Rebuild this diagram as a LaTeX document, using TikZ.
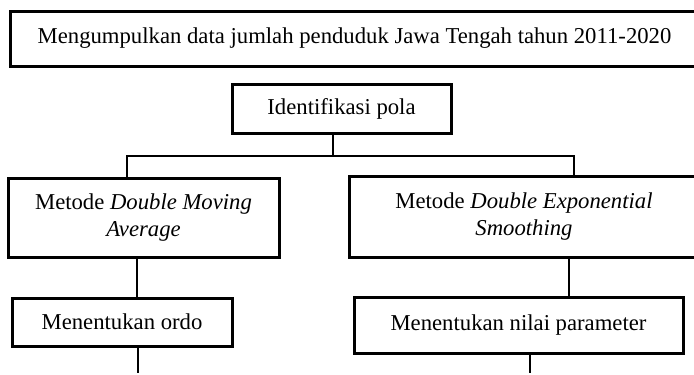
\documentclass[tikz,border=0pt]{standalone}
\usepackage{fontspec}
\setmainfont{Liberation Serif}
\tikzset{
  box/.style={draw, rectangle, line width=3pt, inner sep=0pt, align=center,
    font=\fontsize{22.7}{27}\selectfont},
  link/.style={line width=1.1pt},
}
\begin{document}
\begin{tikzpicture}[x=1pt,y=-1pt]
\useasboundingbox (0,0) rectangle (694,375);
\clip (0,0) rectangle (694,375);
\node[box, minimum width=689pt, minimum height=55pt] (top) at (354.5,38.5)
  {Mengumpulkan data jumlah penduduk Jawa Tengah tahun 2011-2020};
\node[box, minimum width=219pt, minimum height=49pt] (ident) at (341.5,108.5)
  {Identifikasi pola};
\node[box, minimum width=271pt, minimum height=79pt] (left) at (143.5,217.5)
  {Metode \textit{Double Moving}\\\textit{Average}};
\node[box, minimum width=350pt, minimum height=81pt] (right) at (524,216.5)
  {Metode \textit{Double Exponential}\\\textit{Smoothing}};
\node[box, minimum width=220pt, minimum height=48pt] (ordo) at (122,322)
  {Menentukan ordo};
\node[box, minimum width=329pt, minimum height=56pt] (param) at (518.5,325)
  {Menentukan nilai parameter};
\coordinate (bus) at (333,156);
\coordinate (busL) at (127,156);
\coordinate (busR) at (574,156);
\coordinate (xL) at (137,0);
\coordinate (xR) at (569,0);
\coordinate (endL) at (138,373);
\coordinate (endR) at (530,373);
\draw[link] (ident.south -| bus) -- (bus);
\draw[link] (busL |- left.north) -- (busL) -- (busR) -- (busR |- right.north);
\draw[link] (left.south -| xL) -- (ordo.north -| xL);
\draw[link] (right.south -| xR) -- (param.north -| xR);
\draw[link] (ordo.south -| endL) -- (endL);
\draw[link] (param.south -| endR) -- (endR);
\end{tikzpicture}
\end{document}
